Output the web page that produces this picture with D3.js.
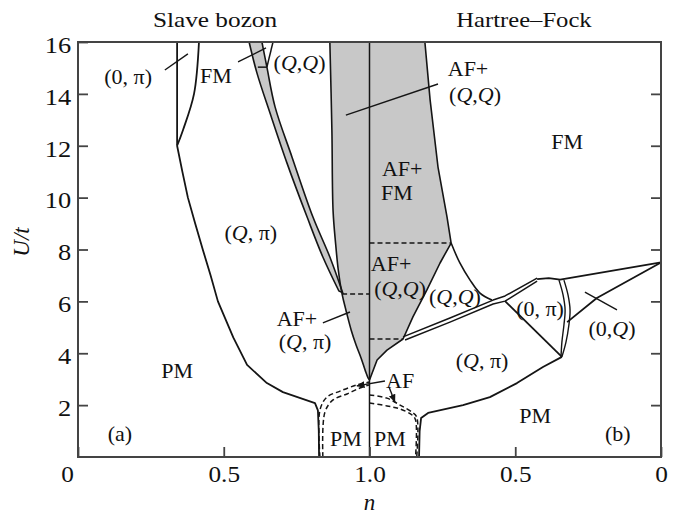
<!DOCTYPE html>
<html>
<head>
<meta charset="utf-8">
<script src="https://cdn.jsdelivr.net/npm/d3@7"></script>
<style>
  body { margin: 0; background: #fff; }
  svg { display: block; }
  text { font-family: "Liberation Serif", "DejaVu Serif", serif; fill: #111; }
</style>
</head>
<body>
<svg id="canvas" width="679" height="515"></svg>
<script>
// axis ticks
let yTicks = [2, 4, 6, 8, 10, 12, 14, 16]
let xTickPos = [0, 0.5, 1, 1.5, 2]
let xTickLabels = ['0', '0.5', '1.0', '0.5', '0']

// (a) slave boson panel, points are [n, U/t]
let sbPiLine = [[0.34, 16], [0.34, 12]]
let sbFmEdge = [[0.415, 16], [0.398, 14], [0.36, 12.6], [0.34, 12]]
let sbPmEdge = [[0.34, 12], [0.358, 11], [0.377, 10], [0.402, 9], [0.428, 8], [0.455, 7], [0.48, 6],
    [0.533, 4.6], [0.58, 3.55], [0.648, 2.85], [0.703, 2.5], [0.813, 2.08], [0.823, 1.8], [0.826, 1.0], [0.827, 0]]
let sbBandLeft = [[0.587, 16], [0.614, 14.8], [0.659, 13.25], [0.717, 11.33], [0.786, 9.25], [0.84, 7.71], [0.895, 6.4]]
let sbBandRight = [[0.631, 16], [0.648, 15.03], [0.676, 13.5], [0.734, 11.57], [0.806, 9.25], [0.864, 7.71], [0.908, 6.33]]
let sbQQSliver = [[0.669, 16], [0.648, 15.03]]
let sbQQStep = [[0.617, 15.03], [0.648, 15.03]]
// left edge of the big gray area, from the tip at n = 1 up to the top
let sbGrayEdge = [[1, 2.97], [0.995, 3.05], [0.985, 3.35], [0.971, 3.82], [0.954, 4.32],
    [0.937, 4.9], [0.919, 5.67], [0.906, 6.28], [0.893, 7.2], [0.884, 8.2], [0.875, 9.5], [0.871, 12.6], [0.864, 16]]
let sbDash = [[0.906, 6.28], [1, 6.28]]
let sbAfDash1 = [[0.83, 0], [0.83, 1.81], [0.854, 2.31], [0.899, 2.54], [0.957, 2.78], [1, 2.89]]
let sbAfDash2 = [[0.84, 0], [0.847, 1.73], [0.875, 2.2], [0.923, 2.43], [0.967, 2.66], [1, 2.78]]

// (b) Hartree-Fock panel, points are [n, U/t]
let hfGrayEdge = [[0.81, 16], [0.792, 13.76], [0.765, 11.18], [0.734, 9.25], [0.72, 8.25], [0.758, 7.48],
    [0.803, 6.44], [0.851, 5.4], [0.885, 4.55], [0.94, 4.12], [0.974, 3.74], [1, 2.97]]
let hfDashHigh = [[1, 8.25], [0.72, 8.25]]
let hfDashLow = [[1, 4.55], [0.885, 4.55]]
let hfQQEdge = [[0.72, 8.25], [0.69, 7.48], [0.655, 6.82], [0.621, 6.32], [0.58, 6.05]]
let hfDblUpper = [[0.885, 4.63], [0.724, 5.36], [0.576, 6.05], [0.535, 6.21], [0.425, 6.9]]
let hfDblLower = [[0.878, 4.51], [0.724, 5.2], [0.576, 5.9], [0.535, 6.01], [0.425, 6.78]]
let hfTopEdge = [[0.425, 6.86], [0.385, 6.9], [0.346, 6.84], [0, 7.5]]
let hfPiInner = [[0.35, 6.82], [0.336, 6.25], [0.329, 5.67], [0.333, 5.09], [0.34, 4.43], [0.343, 3.86]]
let hfPiOuter = [[0.333, 6.82], [0.319, 6.25], [0.312, 5.67], [0.316, 5.09], [0.326, 4.43], [0.34, 3.86]]
let hfPiDiag = [[0.535, 6.01], [0.34, 3.86]]
let hfZeroQEdge = [[0.322, 5.2], [0.22, 6.13], [0, 7.5]]
let hfPmEdge = [[0.34, 3.86], [0.405, 3.47], [0.494, 2.85], [0.587, 2.31], [0.679, 2.0], [0.799, 1.7],
    [0.823, 1.5], [0.828, 1.0], [0.83, 0]]
let hfAfDash1 = [[1, 2.39], [0.94, 2.27], [0.895, 2.0], [0.854, 1.73], [0.838, 1.54], [0.838, 0]]
let hfAfDash2 = [[1, 2.08], [0.94, 1.97], [0.895, 1.85], [0.854, 1.62], [0.842, 1.43], [0.842, 0]]

// leaders: [panel, n, U] -> [panel, n, U], arrow flag
let leaders = [
    [['a', 0.298, 14.92], ['a', 0.377, 15.54], false],
    [['a', 0.549, 15.23], ['a', 0.645, 15.77], false],
    [['a', 0.919, 13.18], ['b', 0.765, 14.38], false],
    [['a', 0.84, 5.17], ['a', 0.933, 5.59], false],
    [['b', 0.947, 2.93], ['a', 0.957, 2.74], true],
    [['b', 0.933, 2.7], ['b', 0.913, 2.12], true],
    [['b', 0.261, 6.36], ['b', 0.151, 5.67], false]
]

// region labels: panel, n, U, text
let labels = [
    ['a', 0.172, 14.69, '(0, π)'],
    ['a', 0.473, 14.73, 'FM'],
    ['a', 0.76, 15.23, '(Q,Q)'],
    ['a', 0.593, 8.67, '(Q, π)'],
    ['a', 0.34, 3.35, 'PM'],
    ['a', 0.144, 0.93, '(a)'],
    ['a', 0.751, 5.36, 'AF+'],
    ['a', 0.779, 4.47, '(Q, π)'],
    ['a', 0.919, 0.73, 'PM'],
    ['b', 0.93, 0.73, 'PM'],
    ['b', 0.895, 2.97, 'AF'],
    ['b', 0.662, 15.0, 'AF+'],
    ['b', 0.638, 14.0, '(Q,Q)'],
    ['b', 0.322, 12.18, 'FM'],
    ['b', 0.888, 11.14, 'AF+'],
    ['b', 0.906, 10.22, 'FM'],
    ['b', 0.926, 7.48, 'AF+'],
    ['b', 0.895, 6.51, '(Q,Q)'],
    ['b', 0.707, 6.21, '(Q,Q)'],
    ['b', 0.415, 5.74, '(0, π)'],
    ['b', 0.168, 4.97, '(0,Q)'],
    ['b', 0.614, 3.74, '(Q, π)'],
    ['b', 0.432, 1.62, 'PM'],
    ['b', 0.148, 0.93, '(b)']
]

let canvas = d3.select('#canvas')

let plotLeft = 78, plotRight = 661, plotTop = 42, plotBottom = 457
let xL = d3.scaleLinear().domain([0, 1]).range([plotLeft, (plotLeft + plotRight) / 2])
let xR = d3.scaleLinear().domain([1, 0]).range([(plotLeft + plotRight) / 2, plotRight])
let xP = d3.scaleLinear().domain([0, 2]).range([plotLeft, plotRight])
let y = d3.scaleLinear().domain([0, 16]).range([plotBottom, plotTop])

let xOf = (panel) => panel === 'a' ? xL : xR

let lineA = d3.line().x(d => xL(d[0])).y(d => y(d[1]))
let lineB = d3.line().x(d => xR(d[0])).y(d => y(d[1]))
let smoothA = d3.line().x(d => xL(d[0])).y(d => y(d[1])).curve(d3.curveCatmullRom)
let smoothB = d3.line().x(d => xR(d[0])).y(d => y(d[1])).curve(d3.curveCatmullRom)

let gray = '#c8c8c8'
let ink = '#151515'

// gray regions: curved edge closed along the top and the n = 1 line
canvas.append('path')
    .attr('d', smoothA(sbGrayEdge) + `L${xL(1)},${y(16)}Z`)
    .attr('fill', gray).attr('stroke', 'none')
canvas.append('path')
    .attr('d', lineB(hfGrayEdge) + `L${xR(1)},${y(16)}Z`)
    .attr('fill', gray).attr('stroke', 'none')
canvas.append('path')
    .attr('d', smoothA(sbBandLeft) + 'L' + smoothA(sbBandRight.slice().reverse()).slice(1) + 'Z')
    .attr('fill', gray).attr('stroke', ink).attr('stroke-width', 1.6)

let solid = (d, w) => {
    canvas.append('path').attr('d', d).attr('fill', 'none')
        .attr('stroke', ink).attr('stroke-width', w || 1.8).attr('stroke-linejoin', 'round')
}
let dashed = (d) => {
    canvas.append('path').attr('d', d).attr('fill', 'none')
        .attr('stroke', ink).attr('stroke-width', 1.5).attr('stroke-dasharray', '5,3')
}

// panel (a) boundaries
solid(lineA(sbPiLine))
solid(smoothA(sbFmEdge))
solid(lineA(sbPmEdge))
solid(lineA(sbQQSliver), 1.5)
solid(lineA(sbQQStep), 1.5)
solid(smoothA(sbGrayEdge), 1.6)
dashed(lineA(sbDash))
dashed(smoothA(sbAfDash1))
dashed(smoothA(sbAfDash2))

// panel (b) boundaries
solid(lineB(hfGrayEdge), 1.6)
dashed(lineB(hfDashHigh))
dashed(lineB(hfDashLow))
solid(smoothB(hfQQEdge), 1.6)
solid(lineB(hfDblUpper), 1.5)
solid(lineB(hfDblLower), 1.5)
solid(lineB(hfTopEdge))
solid(smoothB(hfPiInner), 1.4)
solid(smoothB(hfPiOuter), 1.4)
solid(lineB(hfPiDiag))
solid(lineB(hfZeroQEdge))
solid(lineB(hfPmEdge))
dashed(smoothB(hfAfDash1))
dashed(smoothB(hfAfDash2))

// n = 1 divider
solid(d3.line()([[xL(1), y(0)], [xL(1), y(16)]]), 1.5)

// leaders
canvas.append('defs').append('marker')
    .attr('id', 'arr').attr('viewBox', '0 0 10 10').attr('refX', 9).attr('refY', 5)
    .attr('markerWidth', 6).attr('markerHeight', 6).attr('orient', 'auto')
    .append('path').attr('d', 'M0,1L10,5L0,9Z').attr('fill', ink)

leaders.forEach((l) => {
    let a = l[0], b = l[1]
    let p = canvas.append('line')
        .attr('x1', xOf(a[0])(a[1])).attr('y1', y(a[2]))
        .attr('x2', xOf(b[0])(b[1])).attr('y2', y(b[2]))
        .attr('stroke', ink).attr('stroke-width', 1.4)
    if (l[2]) p.attr('marker-end', 'url(#arr)')
})

// frame and axes
canvas.append('rect')
    .attr('x', plotLeft).attr('y', plotTop).attr('width', plotRight - plotLeft).attr('height', plotBottom - plotTop)
    .attr('fill', 'none').attr('stroke', '#444').attr('stroke-width', 2)

let axisStyle = (g) => {
    g.select('.domain').remove()
    g.selectAll('line').attr('stroke', '#444').attr('stroke-width', 1.8)
    g.selectAll('text').attr('font-size', 23).attr('fill', '#111')
        .style('font-family', '"Liberation Serif", serif')
}

let yAxis = canvas.append('g').attr('transform', `translate(${plotLeft},0)`)
    .call(d3.axisLeft(y).tickValues(yTicks).tickSize(-10).tickPadding(6))
    .call(axisStyle)
yAxis.selectAll('text').attr('dy', '0.45em').attr('transform', 'scale(1.15,1)')

canvas.append('g').attr('transform', `translate(${plotRight},0)`)
    .call(d3.axisRight(y).tickValues(yTicks.slice(0, -1)).tickSize(-10).tickFormat(''))
    .call(axisStyle)

let xAxis = canvas.append('g').attr('transform', `translate(0,${plotBottom})`)
    .call(d3.axisBottom(xP).tickValues(xTickPos).tickSize(-10).tickPadding(9)
        .tickFormat((d, i) => xTickLabels[i]))
    .call(axisStyle)
xAxis.selectAll('text').attr('transform', 'scale(1.1,1)')
xAxis.selectAll('.tick').filter((d, i) => i === 0).select('text').attr('x', -10)

// axis titles
canvas.append('text').attr('x', xP(1)).attr('y', 510).attr('text-anchor', 'middle')
    .attr('font-size', 23).attr('font-style', 'italic').text('n')
canvas.append('text').attr('transform', 'translate(29,242) rotate(-90)').attr('text-anchor', 'middle')
    .attr('font-size', 23).attr('font-style', 'italic').text('U/t')

// panel titles
canvas.append('text').attr('transform', `translate(${xL(0.47)},27) scale(1.15,1)`)
    .attr('text-anchor', 'middle').attr('font-size', 22).text('Slave bozon')
canvas.append('text').attr('transform', `translate(${xR(0.47)},27) scale(1.12,1)`)
    .attr('text-anchor', 'middle').attr('font-size', 22).text('Hartree–Fock')

// region labels, Q in italics
labels.forEach((l) => {
    let t = canvas.append('text')
        .attr('x', xOf(l[0])(l[1])).attr('y', y(l[2]))
        .attr('dy', '0.35em').attr('text-anchor', 'middle').attr('font-size', 22)
    l[3].split(/(Q)/).forEach((part) => {
        if (part === '') return
        t.append('tspan').attr('font-style', part === 'Q' ? 'italic' : 'normal').text(part)
    })
})
</script>
</body>
</html>
